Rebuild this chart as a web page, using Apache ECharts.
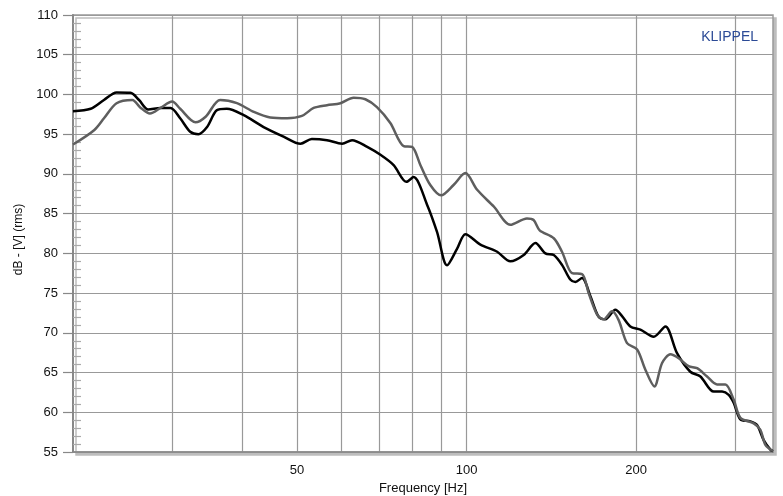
<!DOCTYPE html>
<html>
<head>
<meta charset="utf-8">
<script src="https://cdn.jsdelivr.net/npm/echarts@6/dist/echarts.min.js"></script>
<style>
html,body{margin:0;padding:0;background:#fff;}
#chart{width:783px;height:496px;}
</style>
</head>
<body>
<div id="chart"></div>
<script>
// Black curve
const blackFreq = [20, 21.5, 22.7, 23.9, 25.3, 26.2, 27.2, 28.6, 29.8, 31.0, 32.3, 33.4, 34.6, 36.0, 37.5, 40.2, 43.6, 47.3, 50.7, 53.1, 56.5, 60.1, 62.6, 66.6, 70.3, 74.2, 78.2, 80.5, 85.1, 88.6, 92.3, 96.2, 99.5, 105.8, 113.3, 119.6, 126.3, 132.5, 138.0, 142.8, 147.7, 152.8, 156.0, 160.3, 165.9, 171.6, 176.4, 183.7, 188.8, 195.3, 203.5, 214.9, 225.4, 236.4, 249.6, 260.1, 274.6, 284.2, 292.0, 298.0, 306.3, 319.1, 327.9, 336.9, 346.3, 350];
const blackDb = [97.9, 98.2, 99.3, 100.25, 100.2, 99.3, 98.1, 98.3, 98.3, 97.0, 95.3, 95.0, 95.9, 98.0, 98.2, 97.4, 95.9, 94.7, 93.8, 94.4, 94.25, 93.8, 94.25, 93.4, 92.4, 91.1, 89.0, 89.6, 86.1, 82.7, 78.5, 80.6, 82.4, 81.1, 80.2, 79.0, 79.8, 81.3, 80.0, 79.8, 78.55, 76.7, 76.4, 76.9, 74.6, 72.0, 71.7, 72.9, 72.1, 70.8, 70.4, 69.5, 70.8, 67.45, 65.1, 64.5, 62.6, 62.6, 62.2, 61.2, 59.1, 58.85, 58.4, 56.5, 55.3, 55.1];
// Gray curve
const grayFreq = [20, 21.8, 22.7, 23.9, 25.5, 26.3, 27.4, 28.6, 30.0, 31.0, 33.0, 34.4, 36.5, 39.1, 41.9, 44.8, 48.0, 51.0, 53.5, 56.5, 59.7, 63.0, 66.1, 69.3, 73.2, 77.3, 80.0, 82.8, 86.2, 90.1, 94.8, 99.5, 104.4, 111.7, 119.6, 128.0, 131.5, 134.8, 142.8, 147.7, 153.9, 160.3, 164.7, 170.5, 175.1, 181.2, 186.2, 192.7, 200.8, 207.7, 215.5, 222.4, 230.1, 238.0, 247.9, 256.6, 267.3, 278.5, 288.1, 298.0, 306.3, 323.4, 332.4, 339.3, 350];
const grayDb = [93.7, 95.5, 97.0, 98.9, 99.3, 98.4, 97.6, 98.3, 99.1, 98.2, 96.5, 97.2, 99.3, 98.9, 97.8, 97.1, 97.0, 97.3, 98.3, 98.65, 98.9, 99.6, 99.4, 98.4, 96.4, 93.5, 93.4, 91.1, 88.6, 87.3, 88.6, 90.1, 88.0, 85.9, 83.6, 84.4, 84.2, 82.9, 81.9, 80.2, 77.5, 77.4, 75.0, 72.3, 71.7, 72.7, 71.6, 68.7, 67.9, 65.35, 63.25, 66.2, 67.3, 66.8, 65.8, 65.55, 64.5, 63.5, 63.5, 61.6, 59.3, 58.6, 57.8, 55.9, 55.1];

const xGridTicks = [30, 40, 50, 60, 70, 80, 90, 100, 200, 300];
const xLabelTicks = [50, 100, 200];
const yMin = 55, yMax = 110, yStep = 5;

const zip = (a, b) => a.map((v, i) => [v, b[i]]);
const FONT = 'Liberation Sans, Arial, sans-serif';

const chart = echarts.init(document.getElementById('chart'));
chart.setOption({
  animation: false,
  backgroundColor: '#fff',
  title: {
    text: 'KLIPPEL', right: 20, top: 25,
    textStyle: { color: '#2b4a96', fontSize: 14, fontWeight: 'normal', fontFamily: FONT }
  },
  grid: {
    left: 73, top: 15, right: 10, bottom: 44,
    outerBoundsMode: 'none', containLabel: false,
    show: true, backgroundColor: '#fff', borderColor: '#999', borderWidth: 1.5,
    shadowColor: '#bdbdbd', shadowOffsetX: 3, shadowOffsetY: 3, shadowBlur: 0
  },
  xAxis: {
    type: 'log', logBase: 10, min: 20, max: 350,
    name: 'Frequency [Hz]', nameLocation: 'middle', nameGap: 29,
    nameTextStyle: { color: '#111', fontSize: 13, fontFamily: FONT },
    axisLine: { show: true, lineStyle: { color: '#888', width: 1.5 } },
    axisTick: { show: false, customValues: xGridTicks },
    axisLabel: { customValues: xLabelTicks, color: '#111', fontSize: 13, fontFamily: FONT, margin: 12 },
    splitLine: { show: true, lineStyle: { color: '#999', width: 1.2 } },
    minorTick: { show: false }, minorSplitLine: { show: false }
  },
  yAxis: {
    type: 'value', min: yMin, max: yMax, interval: yStep,
    name: 'dB - [V] (rms)', nameLocation: 'middle', nameGap: 48, nameRotate: 90,
    nameTextStyle: { color: '#111', fontSize: 12, fontFamily: FONT, padding: [0, 12, 0, 0] },
    axisLine: { show: true, lineStyle: { color: '#888', width: 2 } },
    axisTick: { show: true, length: 10, lineStyle: { color: '#888', width: 1.2 } },
    minorTick: { show: true, splitNumber: 5, length: -8, lineStyle: { color: '#aaa', width: 1.2 } },
    axisLabel: { color: '#111', fontSize: 13, fontFamily: FONT, margin: 15 },
    splitLine: { show: true, lineStyle: { color: '#999', width: 1.2 } }
  },
  series: [
    {
      name: 'black', type: 'line', data: zip(blackFreq, blackDb),
      showSymbol: false, smooth: 0.3,
      lineStyle: { color: '#000', width: 2.5 }, z: 3
    },
    {
      name: 'gray', type: 'line', data: zip(grayFreq, grayDb),
      showSymbol: false, smooth: 0.3,
      lineStyle: { color: '#5e5e5e', width: 2.5 }, z: 4
    }
  ]
});
</script>
</body>
</html>
